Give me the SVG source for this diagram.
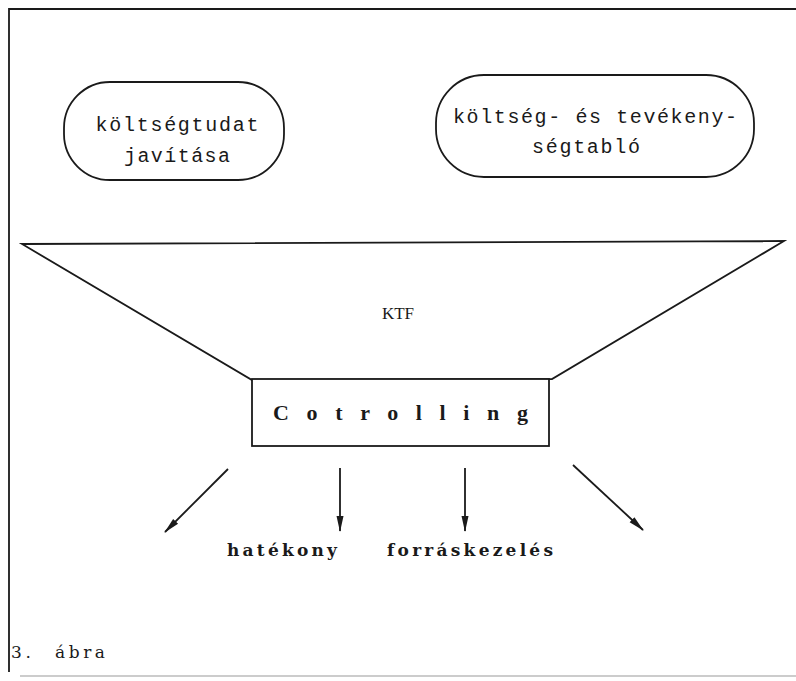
<svg xmlns="http://www.w3.org/2000/svg" width="796" height="681" viewBox="0 0 796 681">
  <style>
    .line { fill: none; stroke: #1a1a1a; stroke-width: 1.8; }
    .shape { fill: #ffffff; stroke: #1a1a1a; stroke-width: 1.8; }
    .mono { font-family: "Liberation Mono", "DejaVu Sans Mono", monospace; font-size: 20px; fill: #1a1a1a; }
    .serif { font-family: "Liberation Serif", "DejaVu Serif", serif; fill: #1a1a1a; }
    .wide { font-family: "DejaVu Serif", "Liberation Serif", serif; fill: #1a1a1a; }
    .bold { font-weight: bold; }
  </style>
  <defs>
    <marker id="arrow" viewBox="0 0 16 10" refX="15" refY="5" markerWidth="16" markerHeight="10" markerUnits="userSpaceOnUse" orient="auto">
      <path d="M0,1.5 L16,5 L0,8.5 Z" fill="#1a1a1a"/>
    </marker>
  </defs>
  <rect width="796" height="681" fill="#ffffff"/>

  <!-- page frame -->
  <g id="frame">
    <path class="line" d="M796,9 L9,9 L9,672"/>
    <path d="M20,676 L796,676" fill="none" stroke="#9a9a9a" stroke-width="1.2"/>
  </g>

  <g id="node-koltsegtudat">
    <rect class="shape" x="64" y="82" width="220" height="98" rx="46" ry="46"/>
    <text class="mono" x="177" y="131" text-anchor="middle" textLength="163" lengthAdjust="spacing">költségtudat</text>
    <text class="mono" x="177" y="162" text-anchor="middle" textLength="106" lengthAdjust="spacing">javítása</text>
  </g>

  <g id="node-tablo">
    <rect class="shape" x="436" y="75" width="318" height="102" rx="48" ry="48"/>
    <text class="mono" x="595" y="123" text-anchor="middle" textLength="284" lengthAdjust="spacing">költség- és tevékeny-</text>
    <text class="mono" x="586" y="153" text-anchor="middle" textLength="108" lengthAdjust="spacing">ségtabló</text>
  </g>

  <g id="node-ktf">
    <path class="shape" d="M22,244 L784,241 L552,379 L252,380 Z"/>
    <text class="serif" x="398" y="319" text-anchor="middle" font-size="17">KTF</text>
  </g>

  <g id="node-controlling">
    <rect class="shape" x="252" y="379" width="297" height="67"/>
    <text class="serif bold" x="273" y="420" font-size="22" textLength="255" lengthAdjust="spacing">Cotrolling</text>
  </g>

  <g id="connectors">
    <path class="line" d="M228,469 L165,532" marker-end="url(#arrow)"/>
    <path class="line" d="M340,468 L340,531" marker-end="url(#arrow)"/>
    <path class="line" d="M465,468 L465,531" marker-end="url(#arrow)"/>
    <path class="line" d="M573,465 L643,530" marker-end="url(#arrow)"/>
  </g>

  <g id="labels">
    <text class="wide bold" x="227" y="556" font-size="17" textLength="110" lengthAdjust="spacing">hatékony</text>
    <text class="wide bold" x="387" y="556" font-size="17" textLength="166" lengthAdjust="spacing">forráskezelés</text>
    <text class="wide" x="11" y="658" font-size="17" textLength="20" lengthAdjust="spacing">3.</text>
    <text class="wide" x="55" y="658" font-size="17" textLength="50" lengthAdjust="spacing">ábra</text>
  </g>
</svg>
